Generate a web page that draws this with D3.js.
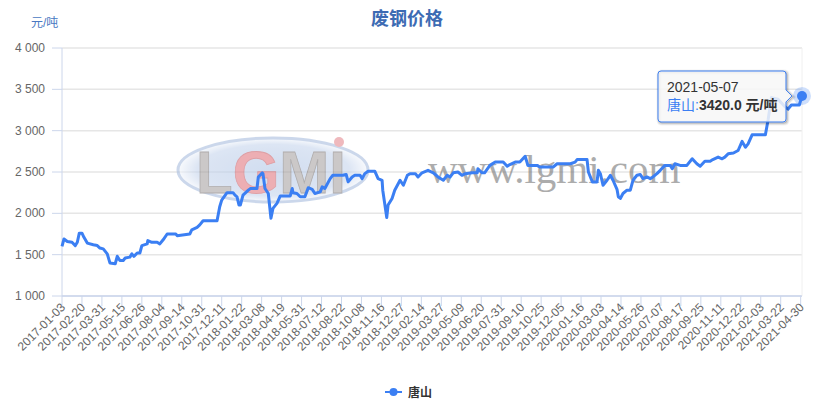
<!DOCTYPE html>
<html lang="zh">
  <head>
    <meta charset="utf-8">
    <title>废钢价格</title>
    <script src="https://d3js.org/d3.v7.min.js"></script>
    <style>
      body { margin: 0; background: #fff; }
      text { font-family: "Liberation Sans", Arial, "Noto Sans CJK SC", sans-serif; }
    </style>
  </head>
  <body>
    <script type="text/javascript">

      // size of the picture
      var w = 832;
      var h = 404;
      var plot = {left: 62, right: 802, top: 48, bottom: 296};

      // x axis is a category axis of trading days, one label every 30 days
      var xTickLabels = [
        "2017-01-03", "2017-02-20", "2017-03-31", "2017-05-15", "2017-06-26", "2017-08-04",
        "2017-09-14", "2017-10-31", "2017-12-11", "2018-01-22", "2018-03-08", "2018-04-19",
        "2018-05-31", "2018-07-12", "2018-08-22", "2018-10-08", "2018-11-16", "2018-12-27",
        "2019-02-14", "2019-03-27", "2019-05-09", "2019-06-20", "2019-07-31", "2019-09-10",
        "2019-10-25", "2019-12-05", "2020-01-16", "2020-03-03", "2020-04-14", "2020-05-26",
        "2020-07-07", "2020-08-17", "2020-09-25", "2020-11-11", "2020-12-22", "2021-02-03",
        "2021-03-22", "2021-04-30"
      ];
      var tickStep = 30;
      var lastDay = 1112;
      var lastDate = "2021-05-07";

      var yTicks = [1000, 1500, 2000, 2500, 3000, 3500, 4000];

      // 唐山 scrap steel price (元/吨), read at trading day index
      var tsDay = [
        0, 3, 8, 15, 20, 23, 26, 30, 33, 38, 47, 53, 57, 62, 68, 72, 80, 83, 87, 92,
        95, 102, 105, 108, 113, 117, 120, 128, 129, 135, 143, 147, 152, 158, 171, 173,
        192, 195, 203, 207, 212, 233, 237, 240, 248, 257, 260, 263, 266, 268, 272, 280,
        283, 293, 295, 301, 302, 305, 310, 314, 317, 323, 328, 343, 346, 347, 353, 358,
        365, 370, 376, 380, 388, 391, 395, 403, 407, 422, 427, 430, 436, 440, 448, 451,
        455, 460, 470, 475, 481, 482, 488, 490, 496, 500, 508, 513, 519, 523, 531, 535,
        541, 550, 558, 565, 573, 579, 583, 588, 595, 601, 606, 616, 624, 625, 631, 635,
        643, 651, 663, 669, 673, 681, 688, 696, 699, 700, 714, 718, 738, 744, 764, 771,
        774, 789, 791, 797, 804, 806, 809, 813, 819, 824, 828, 834, 836, 839, 843, 849,
        854, 858, 864, 869, 873, 879, 884, 888, 894, 899, 906, 914, 917, 921, 929, 939,
        947, 954, 959, 966, 974, 978, 986, 992, 996, 1001, 1009, 1016, 1022, 1027, 1031, 1037,
        1057, 1061, 1066, 1076, 1085, 1091, 1096, 1108, 1112
      ];
      var tsPrice = [
        1600, 1690, 1660, 1650, 1610, 1650, 1760, 1760, 1710, 1640, 1620, 1610, 1580, 1570, 1510, 1400, 1390, 1480, 1430, 1430,
        1460, 1470, 1510, 1480, 1520, 1520, 1610, 1630, 1670, 1650, 1650, 1630, 1680, 1750, 1750, 1730,
        1750, 1800, 1830, 1860, 1910, 1910, 2080, 2160, 2250, 2250, 2220, 2200, 2100, 2100, 2220, 2280,
        2300, 2300, 2440, 2490, 2480, 2300, 2240, 1940, 2060, 2120, 2210, 2210, 2300, 2250, 2240, 2200,
        2200, 2310, 2290, 2240, 2260, 2320, 2300, 2420, 2460, 2460, 2470, 2380, 2440, 2460, 2460, 2420,
        2480, 2510, 2510, 2420, 2400, 2280, 1950, 2100, 2180, 2280, 2400, 2340, 2460, 2480, 2480, 2440,
        2490, 2520, 2490, 2440, 2400, 2460, 2440, 2490, 2500, 2460, 2480, 2490, 2490, 2540, 2490, 2490,
        2580, 2620, 2620, 2570, 2590, 2620, 2620, 2690, 2610, 2580, 2580, 2560, 2560, 2600, 2600, 2620,
        2650, 2650, 2500, 2380, 2380, 2520, 2480, 2340, 2400, 2460, 2400, 2290, 2200, 2180, 2240, 2280,
        2280, 2400, 2460, 2470, 2420, 2440, 2420, 2440, 2480, 2520, 2580, 2580, 2540, 2600, 2580, 2580,
        2660, 2600, 2570, 2630, 2630, 2650, 2680, 2660, 2680, 2720, 2730, 2760, 2870, 2800, 2840, 2950,
        2950, 3130, 3400, 3380, 3300, 3260, 3310, 3310, 3420
      ];

      var lineColor = "#3b7ff3";
      var axisColor = "#ccd6eb";
      var gridColor = "#e6e6e6";
      var labelColor = "#666666";

      var xScale = d3.scaleLinear()
        .domain([0, lastDay])
        .range([plot.left, plot.right]);
      var yScale = d3.scaleLinear()
        .domain([1000, 4000])
        .range([plot.bottom, plot.top]);

      var fmt = function(v) { return d3.format(",")(v).replace(",", " "); };

      var svg = d3.select("body")
        .append("svg")
          .attr("width", w)
          .attr("height", h);

      svg.append("rect")
        .attr("width", w)
        .attr("height", h)
        .attr("fill", "#fff");

      // grid lines
      svg.append("g").selectAll("line")
        .data(yTicks).enter().append("line")
          .attr("x1", plot.left)
          .attr("x2", plot.right)
          .attr("y1", d => yScale(d))
          .attr("y2", d => yScale(d))
          .attr("stroke", d => d == 1000 ? axisColor : gridColor)
          .attr("stroke-width", 1.5);

      // right border of plot
      svg.append("line")
        .attr("x1", plot.right).attr("x2", plot.right)
        .attr("y1", plot.top).attr("y2", plot.bottom)
        .attr("stroke", "#f0f0f0");

      // watermark
      var wm = svg.append("g").attr("opacity", 0.6);
      var grad = svg.append("defs").append("radialGradient").attr("id", "wmg");
      grad.append("stop").attr("offset", "0%").attr("stop-color", "#b3c7e6");
      grad.append("stop").attr("offset", "80%").attr("stop-color", "#c6d5ed");
      grad.append("stop").attr("offset", "100%").attr("stop-color", "#f4f7fc");
      wm.append("ellipse")
        .attr("cx", 273).attr("cy", 170).attr("rx", 95).attr("ry", 32)
        .attr("fill", "url(#wmg)")
        .attr("stroke", "#a9bedf").attr("stroke-width", 3);
      var logo = wm.append("text")
        .attr("x", 196).attr("y", 193)
        .attr("font-size", 60)
        .attr("font-weight", "bold")
        .attr("fill", "#a9a4a4")
        .attr("stroke", "#7d7878")
        .attr("stroke-width", 0.8);
      logo.append("tspan").text("L");
      logo.append("tspan").attr("fill", "#e27a82").attr("stroke", "#c9626b").text("G");
      logo.append("tspan").text("MI");
      wm.append("circle")
        .attr("cx", 339).attr("cy", 142).attr("r", 5)
        .attr("fill", "#e58b92");
      wm.append("text")
        .attr("x", 428).attr("y", 183)
        .style("font-family", "'Liberation Serif', 'DejaVu Serif', serif")
        .attr("font-size", 41)
        .attr("fill", "#767676")
        .text("www.lgmi.com");

      // y axis
      svg.append("line")
        .attr("x1", plot.left).attr("x2", plot.left)
        .attr("y1", plot.top).attr("y2", plot.bottom)
        .attr("stroke", axisColor);
      var yg = svg.append("g");
      yg.selectAll("line")
        .data(yTicks).enter().append("line")
          .attr("x1", plot.left - 10)
          .attr("x2", plot.left)
          .attr("y1", d => yScale(d))
          .attr("y2", d => yScale(d))
          .attr("stroke", axisColor);
      yg.selectAll("text")
        .data(yTicks).enter().append("text")
          .attr("x", 45)
          .attr("y", d => yScale(d) + 4)
          .attr("text-anchor", "end")
          .attr("font-size", 12)
          .attr("fill", labelColor)
          .text(d => fmt(d));

      // x axis
      var xg = svg.append("g");
      xg.append("line")
        .attr("x1", plot.left).attr("x2", plot.right)
        .attr("y1", plot.bottom).attr("y2", plot.bottom)
        .attr("stroke", axisColor);
      xg.selectAll("line.tick")
        .data(xTickLabels).enter().append("line")
          .attr("class", "tick")
          .attr("x1", (d, i) => xScale(i * tickStep))
          .attr("x2", (d, i) => xScale(i * tickStep))
          .attr("y1", plot.bottom)
          .attr("y2", plot.bottom + 10)
          .attr("stroke", axisColor);
      xg.selectAll("text")
        .data(xTickLabels).enter().append("text")
          .attr("transform", (d, i) => `translate(${xScale(i * tickStep) + 4}, ${plot.bottom + 12}) rotate(-45)`)
          .attr("text-anchor", "end")
          .attr("font-size", 12)
          .attr("fill", labelColor)
          .text(d => d);

      // titles
      svg.append("text")
        .attr("x", 407)
        .attr("y", 25)
        .attr("text-anchor", "middle")
        .attr("font-size", 18)
        .attr("font-weight", "bold")
        .attr("fill", "#3d6bb3")
        .text("废钢价格");
      svg.append("text")
        .attr("x", 31)
        .attr("y", 27)
        .attr("font-size", 12)
        .attr("fill", "#4a78c2")
        .text("元/吨");

      // the line
      var pts = tsDay.map((d, i) => [d, tsPrice[i]]);
      var line = d3.line()
        .x(d => xScale(d[0]))
        .y(d => yScale(d[1]));
      svg.append("path")
        .datum(pts)
        .attr("d", line)
        .attr("fill", "none")
        .attr("stroke", lineColor)
        .attr("stroke-width", 3)
        .attr("stroke-linejoin", "round");

      // hovered last point
      var lx = xScale(tsDay[tsDay.length - 1]);
      var ly = yScale(tsPrice[tsPrice.length - 1]);
      svg.append("circle")
        .attr("cx", lx).attr("cy", ly).attr("r", 9)
        .attr("fill", lineColor).attr("opacity", 0.25);
      svg.append("circle")
        .attr("cx", lx).attr("cy", ly).attr("r", 5)
        .attr("fill", lineColor);

      // tooltip
      var tx = 658, ty = 71, tw = 128, th = 51, r = 3;
      var tip = `M${tx + r},${ty} H${tx + tw - r} Q${tx + tw},${ty} ${tx + tw},${ty + r}
        V${ly - 6} L${lx - 10},${ly} L${tx + tw},${ly + 6}
        V${ty + th - r} Q${tx + tw},${ty + th} ${tx + tw - r},${ty + th}
        H${tx + r} Q${tx},${ty + th} ${tx},${ty + th - r} V${ty + r} Q${tx},${ty} ${tx + r},${ty} Z`;
      var tg = svg.append("g");
      [5, 3, 1].forEach((sw, k) => {
        tg.append("path")
          .attr("d", tip)
          .attr("transform", "translate(1,1)")
          .attr("fill", "none")
          .attr("stroke", "#000")
          .attr("stroke-opacity", 0.05 * (k + 1))
          .attr("stroke-width", sw);
      });
      tg.append("path")
        .attr("d", tip)
        .attr("fill", "rgba(247,247,247,0.85)")
        .attr("stroke", lineColor)
        .attr("stroke-width", 1);
      tg.append("text")
        .attr("x", tx + 9)
        .attr("y", ty + 21)
        .attr("font-size", 14)
        .attr("fill", "#333")
        .text(lastDate);
      var t2 = tg.append("text")
        .attr("x", tx + 9)
        .attr("y", ty + 39)
        .attr("font-size", 14)
        .attr("fill", "#333");
      t2.append("tspan").attr("fill", lineColor).text("唐山:");
      t2.append("tspan").attr("font-weight", "bold")
        .text(tsPrice[tsPrice.length - 1].toFixed(1) + " 元/吨");

      // legend
      var lg = svg.append("g");
      lg.append("line")
        .attr("x1", 385).attr("x2", 402)
        .attr("y1", 392).attr("y2", 392)
        .attr("stroke", lineColor).attr("stroke-width", 2);
      lg.append("circle")
        .attr("cx", 393.5).attr("cy", 392).attr("r", 4)
        .attr("fill", lineColor);
      lg.append("text")
        .attr("x", 408)
        .attr("y", 397)
        .attr("font-size", 12)
        .attr("font-weight", "bold")
        .attr("fill", "#333")
        .text("唐山");

    </script>
  </body>
</html>
